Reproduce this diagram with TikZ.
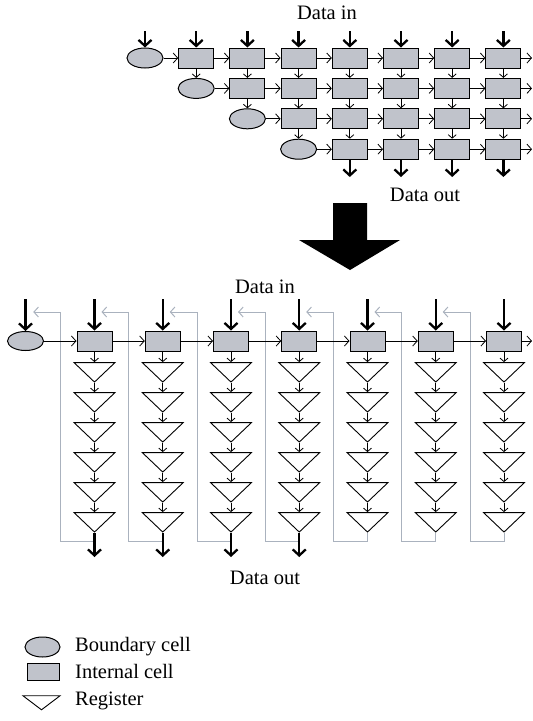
\documentclass[tikz,border=0pt]{standalone}
\usepackage{fontspec}
\setmainfont{Liberation Serif}
\usetikzlibrary{arrows.meta,shapes.geometric}
\definecolor{cellfill}{RGB}{192,195,203}
\definecolor{loopgrey}{RGB}{170,178,190}

\begin{document}
\begin{tikzpicture}[x=1pt,y=-1pt,
  cell/.style={rectangle,draw=black,line width=1pt,fill=cellfill,
    minimum width=35pt,minimum height=20pt,inner sep=0pt},
  bcell/.style={ellipse,draw=black,line width=1pt,fill=cellfill,
    minimum width=36pt,minimum height=20pt,inner sep=0pt},
  reg/.style={isosceles triangle,isosceles triangle stretches,
    shape border rotate=270,draw=black,line width=0.9pt,
    minimum width=41pt,minimum height=19.5pt,inner sep=0pt},
  datain/.style={line width=2.3pt,-{Straight Barb[length=6pt,width=13pt]}},
  hop/.style={line width=0.8pt,-{Straight Barb[length=4.5pt,width=10pt]}},
  drop/.style={line width=0.8pt,-{Straight Barb[length=3.5pt,width=8pt]}},
  feedback/.style={draw=loopgrey,line width=1pt,
    -{Straight Barb[length=4.5pt,width=10pt]}},
  caption/.style={font=\fontsize{20.5}{24}\selectfont,inner sep=0pt}
]
\useasboundingbox (0,0) rectangle (533,721);

% ---------- two-dimensional array ----------
\node[caption] (tin) at (327,13) {Data in};
\foreach \i in {0,...,3}{
  \pgfmathsetmacro\yy{58+30.4*\i}
  \pgfmathtruncatemacro\s{\i+1}
  \node[bcell] (T\i-\i) at ({145+51.2*\i},\yy) {};
  \foreach \j in {\s,...,7}{
    \node[cell] (T\i-\j) at ({145+51.2*\j},\yy) {};
  }
  \coordinate (Tout\i) at (532,\yy);
}
% horizontal links
\foreach \i in {0,...,3}{
  \pgfmathtruncatemacro\s{\i}
  \foreach \j in {\s,...,6}{
    \pgfmathtruncatemacro\k{\j+1}
    \draw[hop] (T\i-\j.east) -- (T\i-\k.west);
  }
  \draw[hop] (T\i-7.east) -- (Tout\i);
}
% vertical links between rows
\foreach \i in {0,...,2}{
  \pgfmathtruncatemacro\s{\i+1}
  \foreach \j in {\s,...,7}{
    \draw[drop] (T\i-\j.south) -- (T\s-\j.north);
  }
}
% inputs and outputs
\foreach \j in {0,...,7}{
  \coordinate (Tin\j) at ({145+51.2*\j},31);
  \draw[datain] (Tin\j) -- (T0-\j.north);
}
\foreach \j in {4,...,7}{
  \coordinate (Tend\j) at ({145+51.2*\j},177);
  \draw[datain] (T3-\j.south) -- (Tend\j);
}
\node[caption] (tout) at (425,195) {Data out};

% ---------- mapping arrow ----------
\fill[black] (333,203) -- (367,203) -- (367,240) -- (400,240) -- (350,270)
  -- (299,240) -- (333,240) -- cycle;

% ---------- linear array with registers ----------
\node[caption] (bin) at (265,287) {Data in};
\node[bcell,minimum height=19pt] (B0) at (25.5,341) {};
\foreach \k in {1,...,7}{
  \node[cell] (B\k) at ({94.5+68.25*(\k-1)},341) {};
  \foreach \m in {0,...,5}{
    \node[reg] (R\k-\m) at ({94.5+68.25*(\k-1)},{370.75+30*\m}) {};
  }
}
% feedback loops
\foreach \k in {1,...,7}{
  \coordinate (L\k) at ({94.5+68.25*(\k-1)-34},541);
  \coordinate (Ltip\k) at ({94.5+68.25*(\k-2)+7},312);
  \draw[feedback] (R\k-5.apex) |- (L\k) |- (Ltip\k);
}
% horizontal links
\draw[hop] (B0.east) -- (B1.west);
\foreach \k in {1,...,6}{
  \pgfmathtruncatemacro\n{\k+1}
  \draw[hop] (B\k.east) -- (B\n.west);
}
\coordinate (Bout) at (532,341);
\draw[hop] (B7.east) -- (Bout);
% register chains
\foreach \k in {1,...,7}{
  \draw[drop] (B\k.south) -- (R\k-0.lower side);
  \foreach \m in {0,...,4}{
    \pgfmathtruncatemacro\n{\m+1}
    \draw[drop] (R\k-\m.apex) -- (R\k-\n.lower side);
  }
}
% inputs
\coordinate (Bin0) at (25.5,299);
\draw[datain] (Bin0) -- (B0.north);
\foreach \k in {1,...,7}{
  \coordinate (Bin\k) at ({94.5+68.25*(\k-1)},299);
  \draw[datain] (Bin\k) -- (B\k.north);
}
% outputs
\foreach \k in {1,...,4}{
  \coordinate (Bend\k) at ({94.5+68.25*(\k-1)},557);
  \draw[datain] (R\k-5.apex) -- (Bend\k);
}
\node[caption] (bout) at (265,578) {Data out};

% ---------- legend ----------
\node[bcell,minimum width=35pt] (kb) at (42.5,647) {};
\node[cell,minimum width=32pt,minimum height=17pt] (kc) at (43,671.5) {};
\node[reg,minimum width=37pt,minimum height=14pt] (kr) at (41.5,702) {};
\node[caption,anchor=west] at (75,647) {Boundary cell};
\node[caption,anchor=west] at (75,671) {Internal cell};
\node[caption,anchor=west] at (75,701) {Register};
\end{tikzpicture}
\end{document}
